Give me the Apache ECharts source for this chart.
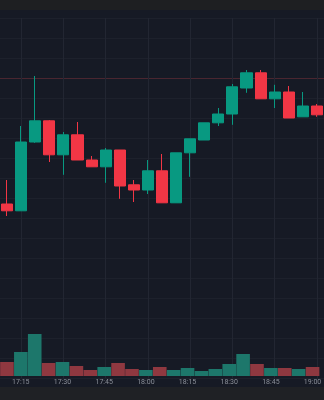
<!DOCTYPE html>
<html><head><meta charset="utf-8">
<script src="https://cdn.jsdelivr.net/npm/echarts@6/dist/echarts.min.js"></script>
<style>html,body{margin:0;padding:0;background:#161a25;}#c{width:324px;height:400px;}</style>
</head><body><div id="c"></div>
<script>
const times = ['17:10','17:15','17:20','17:25','17:30','17:35','17:40','17:45','17:50','17:55','18:00','18:05','18:10','18:15','18:20','18:25','18:30','18:35','18:40','18:45','18:50','18:55','19:00'];
const opens  = [41.35,41.18,42.90,43.43,42.58,43.08,42.45,42.28,42.70,41.83,41.70,42.18,41.38,42.63,42.95,43.38,43.60,44.25,44.63,43.98,44.15,43.53,43.80];
const closes = [41.18,42.90,43.43,42.58,43.08,42.45,42.28,42.70,41.80,41.70,42.18,41.38,42.63,42.98,43.38,43.60,44.28,44.63,43.98,44.15,43.50,43.80,43.58];
const lows   = [41.05,41.18,42.88,42.40,42.08,42.45,42.28,41.88,41.48,41.40,41.60,41.38,41.38,42.03,42.95,43.30,43.33,44.13,43.98,43.75,43.50,43.53,43.53];
const highs  = [41.95,43.30,44.55,43.45,43.15,43.40,42.55,42.75,42.70,41.95,42.45,42.60,42.63,42.98,43.38,43.75,44.35,44.70,44.70,44.33,44.30,44.15,43.85];
const volumes = [1400,2400,4200,1300,1400,1000,600,900,1300,700,600,900,600,800,500,700,1200,2200,1200,800,800,700,900];
const priceLine = 44.5;

const UP = '#089981', DOWN = '#f23645';
const UPV = '#1d776b', DOWNV = '#8f3840';

const candleData = opens.map((o,i)=>[o, closes[i], lows[i], highs[i]]);
const volData = volumes.map((v,i)=>({value:v, itemStyle:{color: closes[i]>=opens[i]?UPV:DOWNV}}));
const showIdx = (i)=> i%3===1;
const vLines = times.filter((t,i)=>showIdx(i)).map(t=>({xAxis:t, lineStyle:{color:'#222632'}}));

const chart = echarts.init(document.getElementById('c'), null, {renderer:'canvas'});
chart.setOption({
  backgroundColor:'#161a25',
  animation:false,
  grid:[
    {left:0, top:18, width:332.35, height:360},
    {left:0, top:316, width:332.35, height:60}
  ],
  xAxis:[
    {type:'category', gridIndex:0, data:times, boundaryGap:true,
     axisLine:{show:false}, axisTick:{show:false}, axisLabel:{show:false}, splitLine:{show:false}},
    {type:'category', gridIndex:1, data:times, boundaryGap:true,
     axisLine:{show:false}, axisTick:{show:false},
     axisLabel:{show:true, interval:(i)=>showIdx(i), color:'#8b8f99', fontSize:7, margin:3, fontFamily:'Roboto'},
     splitLine:{show:false}}
  ],
  yAxis:[
    {type:'value', gridIndex:0, min:37, max:46, interval:0.5, position:'right',
     axisLine:{show:false}, axisTick:{show:false}, axisLabel:{show:false},
     splitLine:{show:true, lineStyle:{color:'#1d212c', width:1}}},
    {type:'value', gridIndex:1, min:0, max:6000, show:false, splitLine:{show:false}}
  ],
  graphic:[
    {type:'rect', shape:{x:0,y:0,width:324,height:10}, style:{fill:'#1e1f22'}, z:10},
    {type:'rect', shape:{x:0,y:387,width:324,height:13}, style:{fill:'#1f2125'}, z:10}
  ],
  series:[
    {type:'line', xAxisIndex:0, yAxisIndex:0, data:[], z:0, silent:true,
     markLine:{silent:true, symbol:'none', label:{show:false}, z:0, zlevel:0,
       lineStyle:{color:'#4a2630', type:'solid', width:1},
       data:[{yAxis:priceLine}].concat(vLines)}},
    {type:'candlestick', xAxisIndex:0, yAxisIndex:0, data:candleData, barWidth:11.6, z:6,
     itemStyle:{color:UP, color0:DOWN, borderColor:UP, borderColor0:DOWN, borderWidth:1}},
    {type:'bar', xAxisIndex:1, yAxisIndex:1, data:volData, barWidth:13.6, z:6}
  ]
});
</script></body></html>
